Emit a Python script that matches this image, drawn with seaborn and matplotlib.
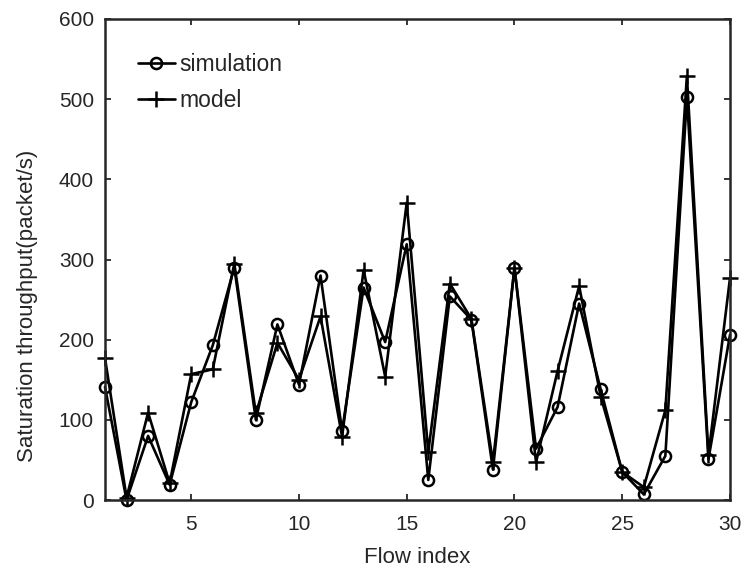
import pandas as pd
import seaborn as sns
import matplotlib
matplotlib.use("Agg")
import matplotlib.pyplot as plt

flow_index = list(range(1, 31))
simulation = [141, 0, 80, 19, 122, 193, 290, 100, 219, 144,
              280, 86, 265, 197, 319, 25, 254, 225, 38, 290,
              64, 116, 245, 138, 35, 7, 55, 503, 51, 206]
model = [177, 3, 109, 21, 157, 163, 295, 108, 196, 150,
         229, 79, 287, 154, 371, 60, 270, 226, 47, 290,
         47, 161, 267, 129, 35, 16, 112, 529, 56, 277]

df = pd.DataFrame({"flow": flow_index, "simulation": simulation, "model": model})

sns.set_style("ticks")
plt.rcParams["font.family"] = ["Liberation Sans", "DejaVu Sans"]

fig = plt.figure(figsize=(7.45, 5.70), dpi=100)
ax = fig.add_axes([105 / 745, 70 / 570, 625 / 745, 481 / 570])

# simulation: open circles, model: plus signs
sns.lineplot(data=df, x="flow", y="simulation", ax=ax, color="k", lw=1.9,
             marker="o", markersize=8, markerfacecolor="none",
             markeredgecolor="k", markeredgewidth=1.8, clip_on=False,
             label="simulation")
sns.lineplot(data=df, x="flow", y="model", ax=ax, color="k", lw=1.9,
             marker="+", markersize=12, markeredgecolor="k",
             markeredgewidth=1.8, clip_on=False, label="model")

ax.set_xlim(1, 30)
ax.set_ylim(0, 600)
ax.set_xticks([5, 10, 15, 20, 25, 30])
ax.set_yticks(range(0, 601, 100))
ax.set_xlabel("Flow index", fontsize=16, labelpad=9)
ax.set_ylabel("Saturation throughput(packet/s)", fontsize=16)
ax.yaxis.set_label_coords(-0.107, 0.403)

for side in ["top", "right", "bottom", "left"]:
    ax.spines[side].set_visible(True)
    ax.spines[side].set_linewidth(1.8)
ax.tick_params(direction="in", length=4, width=1.3, top=True, right=True,
               labelsize=15)
ax.tick_params(axis="x", pad=11)
ax.tick_params(axis="y", pad=8)

ax.legend(loc="upper left", bbox_to_anchor=(0.0528, 0.929), frameon=False,
          fontsize=16.5, handlelength=1.6, handletextpad=0.22,
          labelspacing=0.57, borderpad=0, borderaxespad=0)

fig.savefig("out.png", dpi=100)
